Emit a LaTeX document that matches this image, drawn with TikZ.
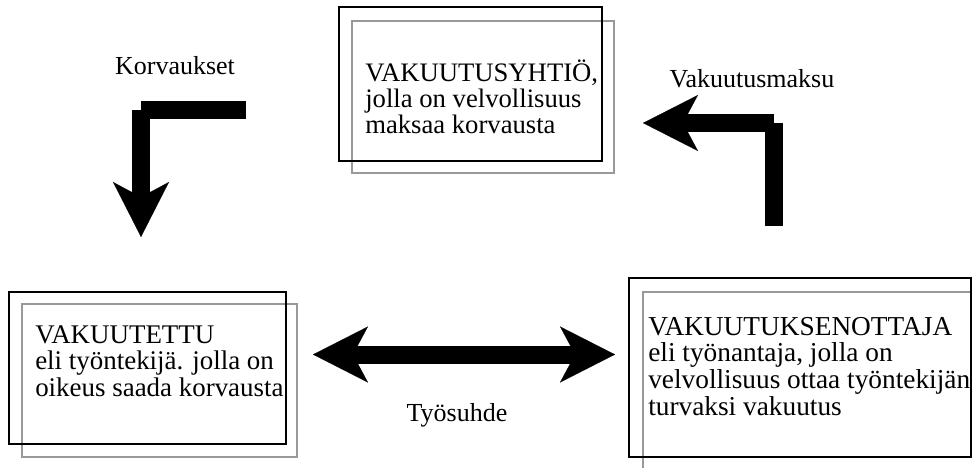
\documentclass[tikz,border=0pt]{standalone}
\usepackage{fontspec}
\setmainfont{Liberation Serif}
\usetikzlibrary{arrows.meta}
\tikzset{
  bigtip/.tip={Stealth[length=41.25pt 0 0, width=42pt 0 0, inset=11.25pt 0 0, line width=0.1pt 0 0]},
  outerbox/.style={draw=black, line width=1.5pt, inner sep=0pt},
  innerbox/.style={draw=black!40, line width=1.5pt, inner sep=0pt},
  boxtext/.style={anchor=base west, inner sep=0pt},
  flowlabel/.style={anchor=base, inner sep=0pt, font=\fontsize{19.5pt}{19.5pt}\selectfont},
  bar/.style={line width=13.5pt, line cap=butt}
}
\begin{document}
\begin{tikzpicture}[x=0.75pt,y=-0.75pt]
\useasboundingbox (0,0) rectangle (972,468);
\clip (0,0) rectangle (972,468);

% insurer
\node[innerbox, minimum width={262*0.75pt}, minimum height={152*0.75pt}] (insG) at (483,97) {};
\node[outerbox, minimum width={263*0.75pt}, minimum height={154*0.75pt}] (insB) at (470.5,84) {};
\node[boxtext, font=\fontsize{20pt}{19.8pt}\selectfont] (insT) at (365,81) {\begin{tabular}[t]{@{}l@{}}VAKUUTUSYHTIÖ,\\jolla on velvollisuus\\maksaa korvausta\end{tabular}};

% insured
\node[innerbox, minimum width={275*0.75pt}, minimum height={153*0.75pt}] (wrkG) at (159.5,380.5) {};
\node[outerbox, minimum width={277*0.75pt}, minimum height={152*0.75pt}] (wrkB) at (147.5,368) {};
\node[boxtext, font=\fontsize{20.2pt}{19.8pt}\selectfont] (wrkT) at (35,343) {\begin{tabular}[t]{@{}l@{}}VAKUUTETTU\\eli työntekijä. jolla on\\oikeus saada korvausta\end{tabular}};

% policyholder
\node[innerbox, minimum width={347*0.75pt}, minimum height={198*0.75pt}] (empG) at (816.5,391) {};
\node[outerbox, minimum width={342*0.75pt}, minimum height={179*0.75pt}] (empB) at (800,367.5) {};
\node[boxtext, font=\fontsize{20.5pt}{19.8pt}\selectfont] (empT) at (648,335) {\begin{tabular}[t]{@{}l@{}}VAKUUTUKSENOTTAJA\\eli työnantaja, jolla on\\velvollisuus ottaa työntekijän\\turvaksi vakuutus\end{tabular}};

% labels
\node[flowlabel] (lK) at (175,74) {Korvaukset};
\node[flowlabel] (lV) at (752,87) {Vakuutusmaksu};
\node[flowlabel] (lT) at (457,421) {Työsuhde};

% arrows
\coordinate (k1) at (246,110);
\coordinate (k2) at (141,110);
\coordinate (k3) at (141,237);
\draw[bar] (k1) -- (k2);
\draw[bar, -bigtip] (k2) -- (k3);

\coordinate (v1) at (774,226);
\coordinate (v2) at (774,123);
\coordinate (v3) at (643,123);
\draw[bar] (v1) -- (v2);
\draw[bar, -bigtip] (v2) -- (v3);

\coordinate (t1) at (313,354.5);
\coordinate (t2) at (615,354.5);
\draw[bar, bigtip-bigtip] (t1) -- (t2);
\end{tikzpicture}
\end{document}
